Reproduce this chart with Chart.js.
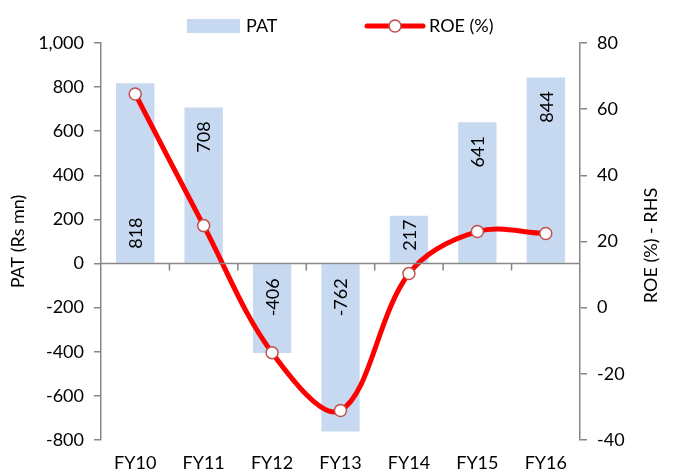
<!DOCTYPE html>
<html>
<head>
<meta charset="utf-8">
<script src="https://cdn.jsdelivr.net/npm/chart.js@4/dist/chart.umd.min.js"></script>
<style>
  html, body { margin: 0; padding: 0; background: #fff; }
  #wrap { width: 674px; height: 474px; position: relative; }
</style>
</head>
<body>
<div id="wrap"><canvas id="chart"></canvas></div>
<script>
// data
const years = ['FY10', 'FY11', 'FY12', 'FY13', 'FY14', 'FY15', 'FY16'];
const patValues = [818, 708, -406, -762, 217, 641, 844];
const roeValues = [64.6, 24.8, -13.6, -31.1, 10.3, 23.0, 22.4];

const axisGrey = '#868686';
const barBlue = '#C6D9F1';
const lineRed = '#FF0000';
const markerEdge = '#C0504D';
const fontFamily = 'Lato, "Noto Sans", sans-serif';

// zero line of the PAT axis with the category tick marks hanging from it
const zeroLine = {
    id: 'zeroLine',
    afterDatasetsDraw(chart) {
        const ctx = chart.ctx;
        const area = chart.chartArea;
        const y0 = chart.scales.y.getPixelForValue(0);
        const xs = chart.scales.x;
        ctx.save();
        ctx.strokeStyle = axisGrey;
        ctx.lineWidth = 1.5;
        ctx.beginPath();
        ctx.moveTo(area.left, y0);
        ctx.lineTo(area.right, y0);
        for (let i = 1; i < years.length; i++) {
            let x = (xs.getPixelForValue(i - 1) + xs.getPixelForValue(i)) / 2;
            ctx.moveTo(x, y0);
            ctx.lineTo(x, y0 + 7);
        }
        ctx.stroke();
        ctx.restore();
    }
};

// rotated value labels inside the bars; moved to the base when the ROE marker sits at the bar end
const barLabels = {
    id: 'barLabels',
    afterDatasetsDraw(chart) {
        const ctx = chart.ctx;
        const bars = chart.getDatasetMeta(0).data;
        const pts = chart.getDatasetMeta(1).data;
        ctx.save();
        ctx.font = '18px ' + fontFamily;
        ctx.fillStyle = '#000';
        ctx.textBaseline = 'middle';
        ctx.textAlign = 'left';
        bars.forEach((bar, i) => {
            const txt = String(patValues[i]);
            const len = ctx.measureText(txt).width;
            const pad = 14, r = 7;
            const positive = bar.y < bar.base;
            const my = pts[i].y;
            let hit;
            if (positive) hit = my >= bar.y - r && my <= bar.y + pad + len + r;
            else hit = my <= bar.y + r && my >= bar.y - pad - len - r;
            let bottom;
            if (positive) bottom = hit ? bar.base - pad : Math.min(bar.y + pad + len, bar.base - 12);
            else bottom = hit ? bar.base + pad + len : bar.y - pad;
            ctx.save();
            ctx.translate(bar.x + 1, bottom);
            ctx.rotate(-Math.PI / 2);
            ctx.fillText(txt, 0, 0);
            ctx.restore();
        });
        ctx.restore();
    }
};

// legend on top and the right axis title (reads upwards, like the left one)
const legendBox = {
    id: 'legendBox',
    afterDraw(chart) {
        const ctx = chart.ctx;
        const area = chart.chartArea;
        ctx.save();
        ctx.fillStyle = barBlue;
        ctx.fillRect(187, 19, 53, 14);
        ctx.font = '18px ' + fontFamily;
        ctx.fillStyle = '#000';
        ctx.textBaseline = 'middle';
        ctx.fillText('PAT', 246, 26);
        ctx.strokeStyle = lineRed;
        ctx.lineWidth = 5;
        ctx.lineCap = 'round';
        ctx.beginPath();
        ctx.moveTo(367, 26);
        ctx.lineTo(423, 26);
        ctx.stroke();
        ctx.beginPath();
        ctx.arc(395, 26, 6, 0, Math.PI * 2);
        ctx.fillStyle = '#fff';
        ctx.fill();
        ctx.lineWidth = 1.5;
        ctx.strokeStyle = markerEdge;
        ctx.stroke();
        ctx.fillStyle = '#000';
        ctx.fillText('ROE (%)', 429, 26);

        ctx.save();
        ctx.translate(651, (area.top + area.bottom) / 2 + 4);
        ctx.rotate(-Math.PI / 2);
        ctx.textAlign = 'center';
        ctx.fillText('ROE (%) - RHS', 0, 0);
        ctx.restore();
        ctx.restore();
    }
};

const tickFont = { size: 18, family: fontFamily };

document.addEventListener('DOMContentLoaded', () => {
    new Chart(document.getElementById('chart'), {
        type: 'bar',
        data: {
            labels: years,
            datasets: [{
                type: 'bar',
                label: 'PAT',
                data: patValues,
                backgroundColor: barBlue,
                barPercentage: 0.56,
                categoryPercentage: 1,
                yAxisID: 'y',
                order: 1
            }, {
                type: 'line',
                label: 'ROE (%)',
                data: roeValues,
                borderColor: lineRed,
                borderWidth: 5,
                tension: 0.35,
                pointRadius: 6,
                pointBackgroundColor: '#fff',
                pointBorderColor: markerEdge,
                pointBorderWidth: 1.5,
                yAxisID: 'y1',
                order: 0
            }]
        },
        options: {
            responsive: true,
            maintainAspectRatio: false,
            animation: false,
            layout: { padding: { top: 43, left: 0, right: 0, bottom: 0 } },
            plugins: {
                legend: { display: false },
                tooltip: { enabled: false }
            },
            scales: {
                x: {
                    grid: { display: false, drawTicks: false },
                    border: { display: false },
                    ticks: { color: '#000', font: tickFont, padding: 12, maxRotation: 0 },
                    afterFit: (s) => { s.height = 34; }
                },
                y: {
                    position: 'left',
                    min: -800,
                    max: 1000,
                    ticks: { stepSize: 200, color: '#000', font: tickFont, padding: 10 },
                    grid: { drawOnChartArea: false, color: axisGrey, lineWidth: 1.5, tickLength: 7 },
                    border: { display: true, color: axisGrey, width: 1.5 },
                    title: { display: true, text: 'PAT (Rs mn)', color: '#000', font: tickFont, padding: { top: 7, bottom: 0 } },
                    afterFit: (s) => { s.width = 101; }
                },
                y1: {
                    position: 'right',
                    min: -40,
                    max: 80,
                    ticks: { stepSize: 20, color: '#000', font: tickFont, padding: 10 },
                    grid: { drawOnChartArea: false, color: axisGrey, lineWidth: 1.5, tickLength: 7 },
                    border: { display: true, color: axisGrey, width: 1.5 },
                    afterFit: (s) => { s.width = 94; }
                }
            }
        },
        plugins: [zeroLine, barLabels, legendBox]
    });
});
</script>
</body>
</html>
